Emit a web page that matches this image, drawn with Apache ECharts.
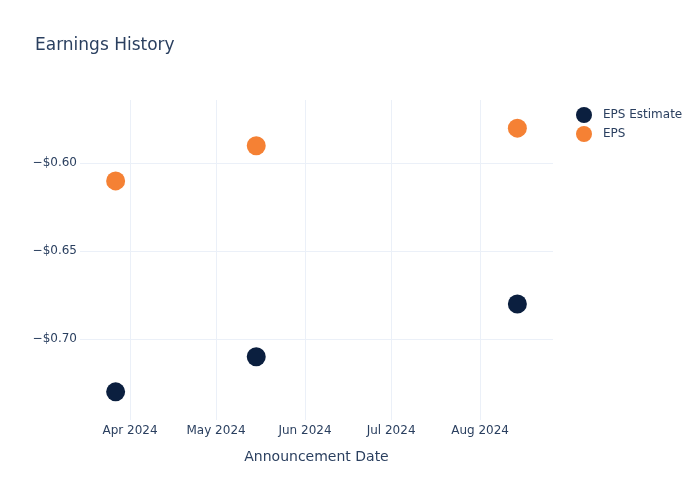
<!DOCTYPE html>
<html>
<head>
<meta charset="utf-8">
<script src="https://cdn.jsdelivr.net/npm/echarts@6/dist/echarts.min.js"></script>
<style>html,body{margin:0;padding:0;background:#fff}#c{width:700px;height:500px}</style>
</head>
<body>
<div id="c"></div>
<script>
const dates = ['2024-03-27', '2024-05-15', '2024-08-14'];
const epsEstimate = [-0.73, -0.71, -0.68];
const eps = [-0.61, -0.59, -0.58];
const yTicks = [-0.70, -0.65, -0.60];
const xTicks = ['2024-04-01', '2024-05-01', '2024-06-01', '2024-07-01', '2024-08-01'];
const monthNames = ['Jan','Feb','Mar','Apr','May','Jun','Jul','Aug','Sep','Oct','Nov','Dec'];

const ts = s => new Date(s + 'T00:00:00Z').getTime();
const xTickTs = xTicks.map(ts);
const txt = '#2a3f5f';
const chart = echarts.init(document.getElementById('c'));
chart.setOption({
  animation: false,
  title: { text: 'Earnings History', left: 30, top: 32, textStyle: { fontFamily: 'DejaVu Sans', fontSize: 17, fontWeight: 'normal', color: txt } },
  legend: {
    orient: 'vertical', left: 571, top: 102, itemGap: 3, itemWidth: 28, itemHeight: 16, icon: 'circle',
    textStyle: { fontFamily: 'DejaVu Sans', fontSize: 12, color: txt },
    data: ['EPS Estimate', 'EPS']
  },
  grid: { left: 80, right: 147, top: 100, bottom: 80 },
  xAxis: {
    type: 'value',
    min: ts('2024-03-14') + 14 * 3600e3,
    max: ts('2024-08-26') + 10 * 3600e3,
    name: 'Announcement Date', nameLocation: 'middle', nameGap: 30,
    nameTextStyle: { fontFamily: 'DejaVu Sans', fontSize: 14, color: txt },
    axisLine: { show: false }, axisTick: { show: false, customValues: xTickTs },
    axisLabel: {
      customValues: xTickTs, margin: 5,
      fontFamily: 'DejaVu Sans', fontSize: 12, color: txt,
      formatter: v => { const d = new Date(v); return monthNames[d.getUTCMonth()] + ' ' + d.getUTCFullYear(); }
    },
    splitLine: { show: true, lineStyle: { color: '#ebf0f8', width: 1 } }
  },
  yAxis: {
    type: 'value', min: -0.746, max: -0.564,
    axisLine: { show: false }, axisTick: { show: false, customValues: yTicks },
    axisLabel: {
      customValues: yTicks, margin: 3,
      fontFamily: 'DejaVu Sans', fontSize: 12, color: txt,
      formatter: v => '\u2212$' + Math.abs(v).toFixed(2)
    },
    splitLine: { show: true, lineStyle: { color: '#ebf0f8', width: 1 } }
  },
  series: [
    { name: 'EPS Estimate', type: 'scatter', symbolSize: 19, itemStyle: { color: '#0b1f3f', opacity: 1 },
      data: dates.map((d, i) => [ts(d), epsEstimate[i]]) },
    { name: 'EPS', type: 'scatter', symbolSize: 19, itemStyle: { color: '#f58134', opacity: 1 },
      data: dates.map((d, i) => [ts(d), eps[i]]) }
  ]
});
</script>
</body>
</html>
